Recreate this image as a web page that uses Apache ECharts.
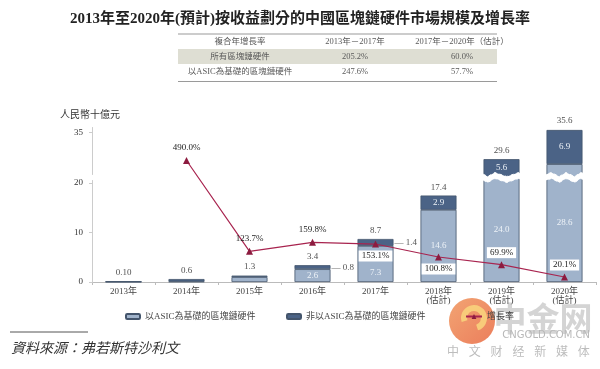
<!DOCTYPE html>
<html><head><meta charset="utf-8">
<script src="https://cdn.jsdelivr.net/npm/echarts@6/dist/echarts.min.js"></script>
<style>html,body{margin:0;padding:0;background:#fff}#c{width:600px;height:369px}</style>
</head><body><div id="c"></div>
<script>
// ---- data ----
const categories = ['2013年','2014年','2015年','2016年','2017年','2018年\n(估計)','2019年\n(估計)','2020年\n(估計)'];
const asicValues = [0.05, 0.1, 1.0, 2.6, 7.3, 14.6, 24.0, 28.6];
const nonAsicValues = [0.05, 0.5, 0.3, 0.8, 1.4, 2.9, 5.6, 6.9];
const totalValues = [0.10, 0.6, 1.3, 3.4, 8.7, 17.4, 29.6, 35.6];
const totalLabels = ['0.10','0.6','1.3','3.4','8.7','17.4','29.6','35.6'];
const growthRates = [null, 490.0, 123.7, 159.8, 153.1, 100.8, 69.9, 20.1];
const yTicks = [0, 10, 20, 35];
const seriesNames = ['以ASIC為基礎的區塊鏈硬件', '非以ASIC為基礎的區塊鏈硬件', '增長率'];
const tableHeader = ['複合年增長率', '2013年－2017年', '2017年－2020年（估計）'];
const tableRows = [
  ['所有區塊鏈硬件', '205.2%', '60.0%'],
  ['以ASIC為基礎的區塊鏈硬件', '247.6%', '57.7%']
];
const titleText = '2013年至2020年(預計)按收益劃分的中國區塊鏈硬件市場規模及增長率';
const yName = '人民幣十億元';
const sourceText = '資料來源：弗若斯特沙利文';

// ---- styles ----
const FONT = "'Liberation Serif','Noto Sans CJK TC',serif";
const LIGHT = '#a0b3cb', DARK = '#4b6386', EDGE = '#44556c';
const LINE = '#a8244f', MARK = '#8c1b3f';

const chart = echarts.init(document.getElementById('c'));

const asicShowFrom = 3;
const asicLowLabel = {4: true};
const nonAsicInsideFrom = 5;
const growthBelow = {4: true, 5: true};
const growthBoxed = {4: true, 5: true, 6: true, 7: true};

const graphics = [];
// table
const tX0 = 178, tX1 = 497, colX = [240, 355, 462], rowY = [42, 56.5, 72];
graphics.push({type: 'rect', shape: {x: tX0, y: 49, width: tX1 - tX0, height: 15}, style: {fill: '#deded3'}});
graphics.push({type: 'line', shape: {x1: tX0, y1: 34, x2: tX1, y2: 34}, style: {stroke: '#9a9a9a', lineWidth: 1.2}});
graphics.push({type: 'line', shape: {x1: tX0, y1: 81.5, x2: tX1, y2: 81.5}, style: {stroke: '#9a9a9a', lineWidth: 1.2}});
[tableHeader].concat(tableRows).forEach((row, r) => row.forEach((txt, c) => {
  graphics.push({type: 'text', x: colX[c], y: rowY[r], style: {text: txt, fill: '#5a5a5a', fontSize: 8.5, fontFamily: FONT, align: 'center', verticalAlign: 'middle'}});
}));
// source
graphics.push({type: 'line', shape: {x1: 10, y1: 332, x2: 88, y2: 332}, style: {stroke: '#555', lineWidth: 1}});
graphics.push({type: 'text', x: 11, y: 349, style: {text: sourceText, fill: '#333', fontSize: 14, fontStyle: 'italic', fontFamily: FONT, align: 'left', verticalAlign: 'middle'}});
// watermark
const wm = [];
wm.push({type: 'circle', shape: {cx: 472, cy: 321, r: 23}, style: {fill: new echarts.graphic.LinearGradient(0, 0, 1, 1, [{offset: 0, color: '#f0945a'}, {offset: 1, color: '#e8673f'}]), opacity: 0.85}});
wm.push({type: 'arc', shape: {cx: 474, cy: 318, r: 10, startAngle: Math.PI * 0.9, endAngle: Math.PI * 2.4}, style: {stroke: '#f8d27c', lineWidth: 6, fill: null, opacity: 0.9}});
wm.push({type: 'text', x: 543, y: 318, style: {text: '中金网', fill: '#cdcdcd', fontSize: 33, fontWeight: 'bold', fontFamily: "'Noto Sans CJK SC'", align: 'center', verticalAlign: 'middle', opacity: 0.85}});
wm.push({type: 'text', x: 590, y: 335, style: {text: 'CNGOLD.COM.CN', fill: '#b8b8b8', fontSize: 10, fontFamily: "'DejaVu Sans'", align: 'right', verticalAlign: 'middle'}});
'中文财经新媒体'.split('').forEach((ch, i) => {
  wm.push({type: 'text', x: 453 + i * 21.8, y: 351, style: {text: ch, fill: '#bdbdbd', fontSize: 12, fontFamily: "'Noto Sans CJK SC'", align: 'center', verticalAlign: 'middle'}});
});
graphics.push({type: 'group', z: 100, children: wm});

const legendBase = {top: 307, itemWidth: 14, itemHeight: 5, textStyle: {fontSize: 9, color: '#444', fontFamily: FONT}, itemGap: 10, selectedMode: false};

const option = {
  animation: false,
  backgroundColor: '#fff',
  title: {text: titleText, left: 'center', top: 7, textStyle: {fontSize: 15, fontWeight: 'bold', color: '#222', fontFamily: FONT}},
  legend: [
    Object.assign({left: 120, data: [seriesNames[0]]}, legendBase),
    Object.assign({left: 281, data: [seriesNames[1]]}, legendBase),
    Object.assign({left: 460, data: [seriesNames[2]]}, legendBase, {itemWidth: 16, itemHeight: 6})
  ],
  grid: {left: 92, right: 4, top: 127.5, bottom: 87, containLabel: false},
  xAxis: {
    type: 'category', data: categories,
    axisLine: {lineStyle: {color: '#bbb'}},
    axisTick: {show: true, length: 3, lineStyle: {color: '#bbb'}},
    axisLabel: {fontSize: 9, color: '#444', margin: 5, lineHeight: 9, fontFamily: FONT, interval: 0}
  },
  yAxis: [{
    type: 'value', min: 0, max: 36, z: 3,
    name: yName, nameLocation: 'end', nameGap: 7,
    nameTextStyle: {fontSize: 10, color: '#333', fontFamily: FONT, align: 'left', padding: [0, 0, 0, -32]},
    breaks: [{start: 20.5, end: 26.5, gap: '4%'}],
    breakArea: {show: true, itemStyle: {color: '#fff', borderColor: '#fff', borderWidth: 1, opacity: 1}, zigzagAmplitude: 2, zigzagMinSpan: 5, zigzagMaxSpan: 12, zigzagZ: 3, expandOnClick: false},
    splitLine: {show: false},
    axisLine: {show: true, lineStyle: {color: '#ccc'}},
    axisTick: {show: true, length: 3, customValues: yTicks, lineStyle: {color: '#ccc'}},
    axisLabel: {customValues: yTicks, fontSize: 9, color: '#333', margin: 9, fontFamily: FONT}
  }, {
    type: 'value', min: 0, max: 623, show: false, splitLine: {show: false}
  }],
  series: [
    {
      name: seriesNames[0], type: 'bar', stack: 'total', barWidth: 36,
      itemStyle: {color: LIGHT, borderColor: EDGE, borderWidth: 0.8},
      label: {fontSize: 9, fontFamily: FONT, color: '#eef3f8', formatter: p => p.value.toFixed(1)},
      data: asicValues.map((v, i) => ({value: v, label: {show: i >= asicShowFrom, position: asicLowLabel[i] ? 'insideBottom' : 'inside', distance: 5}}))
    },
    {
      name: seriesNames[1], type: 'bar', stack: 'total', barWidth: 36,
      itemStyle: {color: DARK, borderColor: EDGE, borderWidth: 0.8},
      label: {fontSize: 9, fontFamily: FONT, formatter: p => p.value.toFixed(1)},
      data: nonAsicValues.map((v, i) => ({
        value: v,
        label: i >= nonAsicInsideFrom ? {show: true, position: 'inside', color: '#eef3f8'}
          : (i >= asicShowFrom ? {show: true, position: 'right', distance: 1, color: '#555', formatter: p => '— ' + p.value.toFixed(1)} : {show: false})
      }))
    },
    {
      type: 'scatter', symbolSize: 0, z: 20, silent: true,
      data: totalValues,
      label: {show: true, position: 'top', distance: 4, fontSize: 9, color: '#222', fontFamily: FONT, formatter: p => totalLabels[p.dataIndex]}
    },
    {
      name: seriesNames[2], type: 'line', yAxisIndex: 1, z: 30, zlevel: 1,
      symbol: 'triangle', symbolSize: 7,
      lineStyle: {color: LINE, width: 1.2}, itemStyle: {color: MARK},
      label: {fontSize: 9, fontFamily: FONT, color: '#222'},
      data: growthRates.map((v, i) => ({
        value: v,
        label: {
          show: v != null,
          position: growthBelow[i] ? 'bottom' : 'top',
          distance: growthBoxed[i] ? 3 : 5,
          formatter: v != null ? v.toFixed(1) + '%' : '',
          backgroundColor: growthBoxed[i] ? '#fff' : 'transparent',
          padding: growthBoxed[i] ? [1, 3] : 0
        }
      }))
    }
  ],
  graphic: graphics
};
chart.setOption(option);
</script>
</body></html>
